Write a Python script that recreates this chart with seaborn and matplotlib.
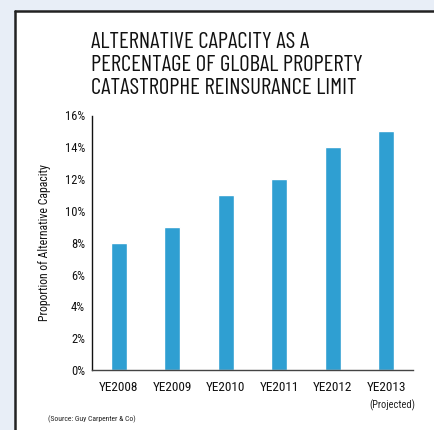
import matplotlib
matplotlib.use("Agg")
import matplotlib.pyplot as plt
import seaborn as sns
import pandas as pd

categories = ["YE2008", "YE2009", "YE2010", "YE2011", "YE2012", "YE2013"]
values = [8, 9, 11, 12, 14, 15]
yticks = [0, 2, 4, 6, 8, 10, 12, 14, 16]
title = "ALTERNATIVE CAPACITY AS A\nPERCENTAGE OF GLOBAL PROPERTY\nCATASTROPHE REINSURANCE LIMIT"
ylabel = "Proportion of Alternative Capacity"
note = "(Projected)"
source = "(Source: Guy Carpenter & Co)"

sns.set_style("white")
plt.rcParams["font.family"] = ["Roboto Condensed", "Liberation Sans Narrow", "DejaVu Sans"]
title_family = ["Barlow Condensed", "Roboto Condensed", "DejaVu Sans"]

df = pd.DataFrame({"cat": categories, "val": values})

fig = plt.figure(figsize=(4.35, 4.30), dpi=100)
fig.patch.set_facecolor("#e8eef7")
panel = plt.Rectangle((15/435, 0), 1, 1 - 10.5/430, transform=fig.transFigure,
                      facecolor="white", edgecolor="none", zorder=-5)
fig.patches.append(panel)
fig.add_artist(plt.Line2D([15/435, 15/435], [0, 1 - 10.5/430], transform=fig.transFigure,
                          color="#222222", lw=1.8))
fig.add_artist(plt.Line2D([15/435, 1], [1 - 10.5/430, 1 - 10.5/430], transform=fig.transFigure,
                          color="#222222", lw=1.8))

ax = fig.add_axes([92/435, 1 - 370/430, (413 - 92)/435, (370 - 115.5)/430])
ax.set_facecolor("none")
sns.barplot(data=df, x="cat", y="val", color="#2f9fd2", width=0.3, saturation=1, ax=ax)
ax.set_xlim(-0.5, 5.5)
ax.set_ylim(0, 16)
ax.set_yticks(yticks)
ax.set_yticklabels([f"{t}%" for t in yticks], fontsize=9, color="#111111")
ax.tick_params(axis="y", direction="in", length=8, width=1.3, color="#7f9cb4", pad=5)
ax.tick_params(axis="x", length=0, pad=8, labelsize=9.5, labelcolor="#111111")
ax.set_xlabel("")
ax.set_ylabel(ylabel, fontsize=8.5, color="#111111", labelpad=10)
for s in ["top", "right"]:
    ax.spines[s].set_visible(False)
ax.spines["left"].set_color("#111111")
ax.spines["left"].set_linewidth(1.0)
ax.spines["bottom"].set_color("#444444")
ax.spines["bottom"].set_linewidth(1.0)

fig.text(91/435, 1 - 32/430, title, fontsize=16.5, color="#111111", va="top", ha="left",
         linespacing=1.13, family=title_family)
fig.text(392/435, 1 - 405/430, note, fontsize=7.5, color="#222222", ha="center", va="center")
fig.text(48/435, 1 - 419/430, source, fontsize=5.5, color="#222222", ha="left", va="center")

fig.savefig("out.png", dpi=100)
